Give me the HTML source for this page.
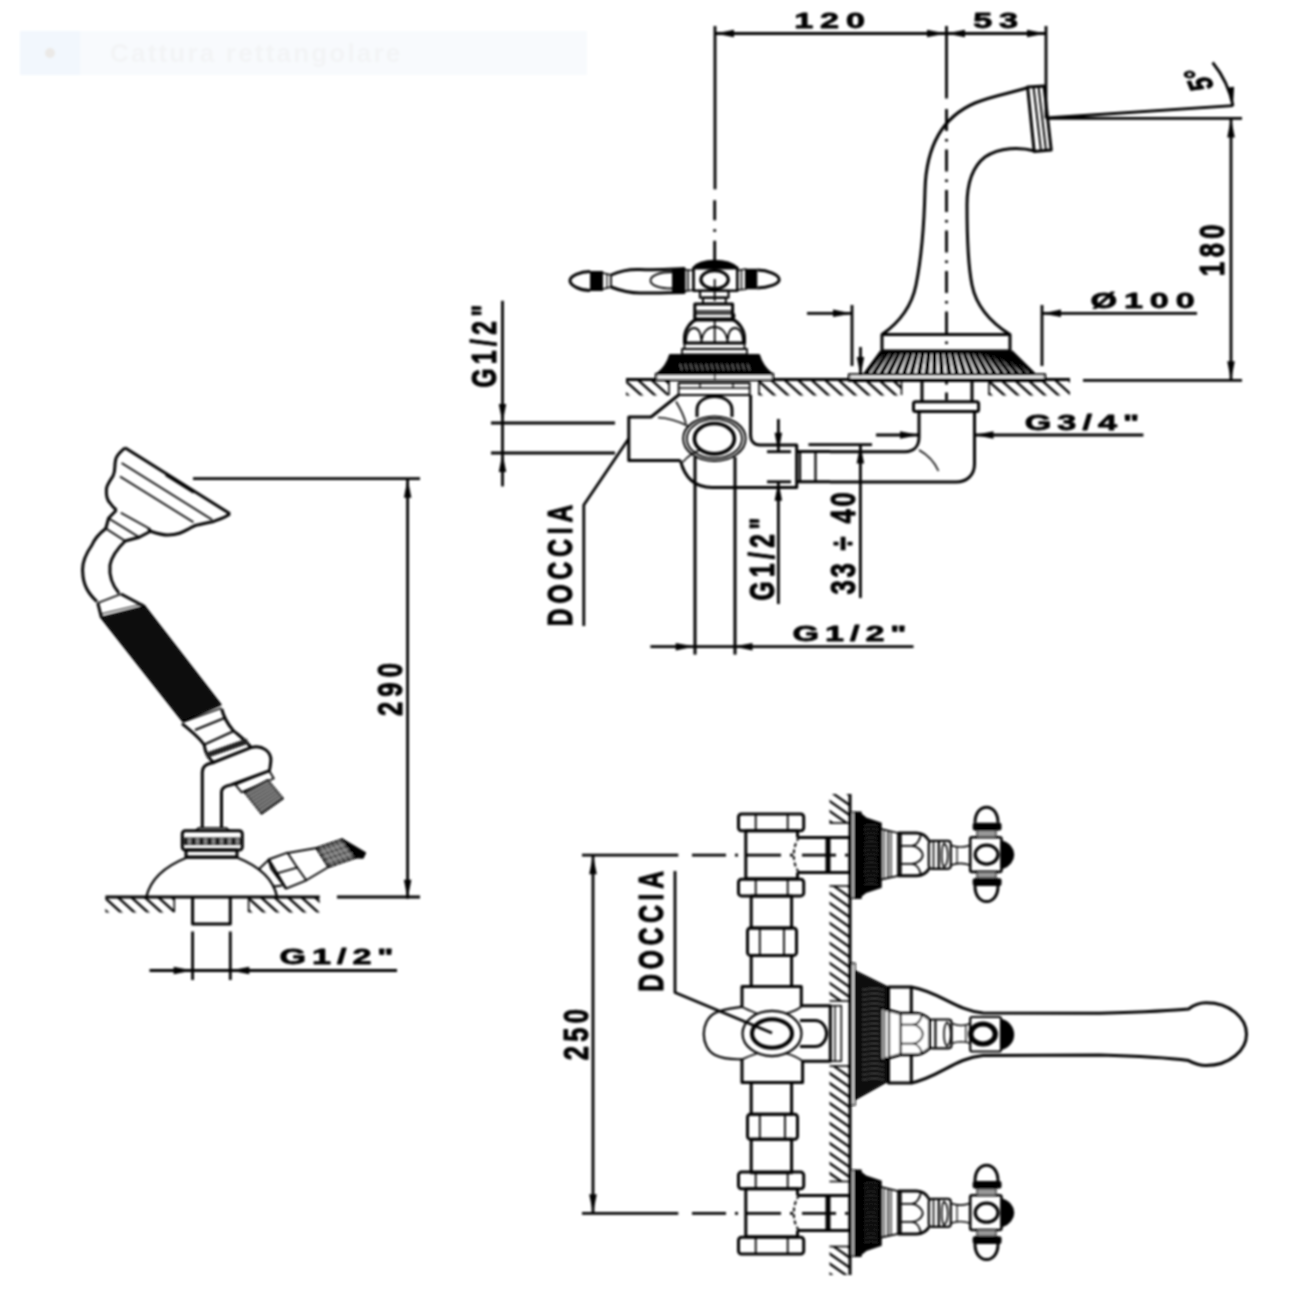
<!DOCTYPE html>
<html><head><meta charset="utf-8"><style>
html,body{margin:0;padding:0;background:#fff;width:1300px;height:1300px;overflow:hidden}
svg{display:block}
text{font-family:"Liberation Sans",sans-serif}
</style></head><body>
<svg width="1300" height="1300" viewBox="0 0 1300 1300" stroke="#000" fill="none" stroke-linecap="butt" stroke-linejoin="round">
<defs><filter id="blr" filterUnits="userSpaceOnUse" x="0" y="0" width="1300" height="1300"><feGaussianBlur stdDeviation="0.9"/></filter></defs>
<rect x="0" y="0" width="1300" height="1300" fill="#fff" stroke="none"/>
<g filter="url(#blr)">
<rect x="20" y="31" width="567" height="44" fill="#f8fafd" stroke="none"/>
<rect x="20" y="31" width="60" height="44" fill="#f2f7fd" stroke="none"/>
<circle cx="50" cy="53" r="5" fill="#ebe9e7" stroke="none"/>
<text x="110" y="62" font-size="26" font-weight="bold" letter-spacing="2.2" fill="#f3f4f6" stroke="none">Cattura rettangolare</text>
<line x1="715.0" y1="33.5" x2="1046.0" y2="33.5" stroke-width="2.8" />
<polygon points="715.0,33.5 734.0,29.8 734.0,37.2" fill="#000" stroke="none"/>
<polygon points="946.0,33.5 927.0,37.2 927.0,29.8" fill="#000" stroke="none"/>
<polygon points="946.0,33.5 965.0,29.8 965.0,37.2" fill="#000" stroke="none"/>
<polygon points="1046.0,33.5 1027.0,37.2 1027.0,29.8" fill="#000" stroke="none"/>
<line x1="715.0" y1="26.0" x2="715.0" y2="189.3" stroke-width="2.8" />
<line x1="946.5" y1="26.0" x2="946.5" y2="98.5" stroke-width="2.8" />
<line x1="1046.0" y1="26.0" x2="1046.0" y2="118.4" stroke-width="2.8" />
<text transform="translate(833.0,28.0) scale(1.52,1) rotate(0)" font-size="22.5" letter-spacing="4.5" text-anchor="middle" font-weight="bold" fill="#000" stroke="#000" stroke-width="0.8">120</text>
<text transform="translate(999.0,28.0) scale(1.52,1) rotate(0)" font-size="22.5" letter-spacing="4.5" text-anchor="middle" font-weight="bold" fill="#000" stroke="#000" stroke-width="0.8">53</text>
<path d="M714.7,200.3V220.3M714.7,229.3V231.8M714.7,240.8V260.8" stroke-width="2.8" fill="none" />
<path d="M946.5,109.0V131.0M946.5,139.0V141.5M946.5,149.5V171.5M946.5,179.5V182.0M946.5,190.0V212.0M946.5,220.0V222.5M946.5,230.5V252.5M946.5,260.5V263.0M946.5,271.0V293.0M946.5,301.0V303.5M946.5,311.5V333.5M946.5,341.5V344.0M946.5,352.0V374.0M946.5,382.0V384.5M946.5,392.5V400.0" stroke-width="2.8" fill="none" />
<path d="M882,334.6 C900,322 912,305 916,285 C921,260 924,230 925,190 C926,150 940,118 975,103 C995,95 1012,93 1028,87.5" stroke-width="3.0" fill="none" />
<path d="M1035,151 C1020,147 1000,147 985,157 C972,167 967,185 967,205 C967,240 968,265 972,285 C976,305 990,322 1010,334.6" stroke-width="3.0" fill="none" />
<path d="M1027.6,87 L1044,86 L1051.2,150 L1034.2,151.5 Z" stroke-width="3.0" fill="none" />
<line x1="1033.5" y1="87.0" x2="1041.0" y2="151.0" stroke-width="2.0" />
<line x1="1038.5" y1="86.5" x2="1046.0" y2="150.5" stroke-width="2.0" />
<rect x="882.0" y="334.6" width="128.0" height="16.4" rx="0" stroke-width="3.0" fill="none"/>
<polygon points="882,352 1010.6,352 1033.5,374.4 865.5,374.4" fill="#fff" stroke="#000" stroke-width="2"/>
<path d="M882.0,352L865.5,374.4M887.8,352L873.1,374.4M893.7,352L880.8,374.4M899.5,352L888.4,374.4M905.4,352L896.0,374.4M911.2,352L903.7,374.4M917.1,352L911.3,374.4M922.9,352L919.0,374.4M928.8,352L926.6,374.4M934.6,352L934.2,374.4M940.5,352L941.9,374.4M946.3,352L949.5,374.4M952.1,352L957.1,374.4M958.0,352L964.8,374.4M963.8,352L972.4,374.4M969.7,352L980.0,374.4M975.5,352L987.7,374.4M981.4,352L995.3,374.4M987.2,352L1003.0,374.4M993.1,352L1010.6,374.4M998.9,352L1018.2,374.4M1004.8,352L1025.9,374.4M1010.6,352L1033.5,374.4" stroke-width="4.8" fill="none" />
<line x1="882.0" y1="352.5" x2="1010.6" y2="352.5" stroke-width="2.5" />
<rect x="849.0" y="374.4" width="196.0" height="6.3" rx="0" stroke-width="2.4" fill="#fff"/>
<line x1="626.0" y1="379.5" x2="1070.0" y2="379.5" stroke-width="3.0" />
<line x1="1083.0" y1="380.3" x2="1242.0" y2="380.3" stroke-width="2.8" />
<clipPath id="c28"><rect x="626" y="381" width="43" height="14.5"/></clipPath>
<path d="M596.5,379.0L616.9,397.5M610.0,379.0L630.4,397.5M623.5,379.0L643.9,397.5M637.0,379.0L657.4,397.5M650.5,379.0L670.9,397.5M664.0,379.0L684.4,397.5M677.5,379.0L697.9,397.5" stroke-width="2.4" clip-path="url(#c28)"/>
<clipPath id="c30"><rect x="759" y="381" width="142.5" height="14.5"/></clipPath>
<path d="M729.5,379.0L749.9,397.5M743.0,379.0L763.4,397.5M756.5,379.0L776.9,397.5M770.0,379.0L790.4,397.5M783.5,379.0L803.9,397.5M797.0,379.0L817.4,397.5M810.5,379.0L830.9,397.5M824.0,379.0L844.4,397.5M837.5,379.0L857.9,397.5M851.0,379.0L871.4,397.5M864.5,379.0L884.9,397.5M878.0,379.0L898.4,397.5M891.5,379.0L911.9,397.5M905.0,379.0L925.4,397.5" stroke-width="2.4" clip-path="url(#c30)"/>
<clipPath id="c32"><rect x="989" y="381" width="81" height="14.5"/></clipPath>
<path d="M959.5,379.0L979.9,397.5M973.0,379.0L993.4,397.5M986.5,379.0L1006.9,397.5M1000.0,379.0L1020.4,397.5M1013.5,379.0L1033.9,397.5M1027.0,379.0L1047.4,397.5M1040.5,379.0L1060.9,397.5M1054.0,379.0L1074.4,397.5M1067.5,379.0L1087.9,397.5M1081.0,379.0L1101.4,397.5" stroke-width="2.4" clip-path="url(#c32)"/>
<line x1="669.0" y1="380.0" x2="669.0" y2="395.0" stroke-width="1.6" />
<line x1="759.0" y1="380.0" x2="759.0" y2="395.0" stroke-width="1.6" />
<line x1="901.5" y1="380.0" x2="901.5" y2="395.0" stroke-width="1.6" />
<line x1="989.0" y1="380.0" x2="989.0" y2="395.0" stroke-width="1.6" />
<path d="M590,271.5 C580,271.5 570,276 570,280.5 C570,285.5 580,290.5 590,290.5" stroke-width="3.0" fill="none" />
<rect x="590.0" y="271.0" width="13.0" height="20.0" rx="0" stroke-width="0" fill="#000"/>
<path d="M603,273 L611,275 L611,287 L603,289" stroke-width="1.8" fill="none" />
<line x1="607.0" y1="274.0" x2="607.0" y2="288.0" stroke-width="1.2" />
<path d="M611,275 C620,271 630,269 640,269.5 C660,270.5 672,269 684,268.5 L684,292.5 C672,292.5 660,293 640,293 C630,293 620,290.5 611,287" stroke-width="3.0" fill="none" />
<path d="M672,272 C660,272 650.5,275.5 650.5,280.5 C650.5,285.5 660,288.5 672,288.5" stroke-width="1.8" fill="none" />
<rect x="672.0" y="268.5" width="11.0" height="24.0" rx="0" stroke-width="0" fill="#000"/>
<path d="M683,269.5 L693.5,270.5 L693.5,290 L683,291.5" stroke-width="1.6" fill="none" />
<line x1="688.0" y1="270.0" x2="688.0" y2="291.0" stroke-width="1.6" />
<path d="M737.3,270.5 L745.8,269 L745.8,289.2 L737.3,290" stroke-width="1.6" fill="none" />
<line x1="741.5" y1="270.0" x2="741.5" y2="289.5" stroke-width="1.4" />
<rect x="745.8" y="268.8" width="11.5" height="20.4" rx="0" stroke-width="0" fill="#000"/>
<path d="M757.3,270 C768,270 779.2,275 779.2,279.5 C779.2,284 768,288 757.3,288" stroke-width="3.0" fill="none" />
<path d="M693.5,268 C698,262 706,261 714.6,261 C723,261 731,262 737.3,268 Z" fill="#000" stroke="#000" stroke-width="2.5"/>
<rect x="693.5" y="268.0" width="43.8" height="22.8" rx="0" stroke-width="2.6" fill="none"/>
<ellipse cx="714.6" cy="279.6" rx="13.7" ry="9.0" stroke-width="3.2" fill="none"/>
<line x1="714.7" y1="279.0" x2="714.7" y2="301.0" stroke-width="1.8" />
<rect x="700.0" y="290.8" width="28.5" height="6.9" rx="0" stroke-width="2.2" fill="none"/>
<rect x="703.0" y="297.7" width="22.8" height="6.1" rx="0" stroke-width="2.0" fill="none"/>
<rect x="694.8" y="304.0" width="37.8" height="16.0" rx="0" stroke-width="3.0" fill="none"/>
<line x1="694.8" y1="311.0" x2="732.6" y2="311.0" stroke-width="1.4" />
<rect x="694.5" y="313.5" width="40.0" height="5.0" rx="2.5" stroke-width="1.8" fill="none"/>
<path d="M697,319 C690,322 684.5,330 684.5,338 L684.5,343 L744.5,343 L744.5,338 C744.5,330 739,322 732,319" stroke-width="3.0" fill="none" />
<path d="M686,342 C686,333 690,328 694,328 C698,328 701,332 701.5,342 M701.5,342 C702,332 708,327 714.5,327 C721,327 727,332 727.5,342 M727.5,342 C728,332 731,328 735,328 C739,328 743,333 743,342" stroke-width="1.8" fill="none" />
<line x1="714.7" y1="319.0" x2="714.7" y2="343.0" stroke-width="1.8" />
<rect x="684.5" y="343.0" width="60.0" height="6.0" rx="0" stroke-width="1.8" fill="none"/>
<rect x="682.0" y="349.0" width="65.0" height="5.5" rx="0" stroke-width="1.8" fill="none"/>
<path d="M670,355 L759,355 C761,362 764,368 772,374 L657,374 C665,368 668,362 670,355 Z" fill="#000" stroke="#000" stroke-width="2"/>
<path d="M680.0,364 L682.0,370M685.2,364 L687.2,370M690.4,364 L692.4,370M695.6,364 L697.6,370M700.8,364 L702.8,370M706.0,364 L708.0,370M711.2,364 L713.2,370M716.4,364 L718.4,370M721.6,364 L723.6,370M726.8,364 L728.8,370M732.0,364 L734.0,370M737.2,364 L739.2,370M742.4,364 L744.4,370M747.6,364 L749.6,370" stroke-width="1.0" fill="none" stroke="#fff" opacity="0.5"/>
<rect x="656.0" y="374.0" width="117.0" height="6.0" rx="0" stroke-width="2.4" fill="#fff"/>
<line x1="714.7" y1="374.0" x2="714.7" y2="380.0" stroke-width="1.6" />
<rect x="678.6" y="383.0" width="71.1" height="12.0" rx="0" stroke-width="1.8" fill="none"/>
<line x1="678.6" y1="388.0" x2="749.7" y2="388.0" stroke-width="1.4" />
<line x1="700.0" y1="383.0" x2="700.0" y2="388.0" stroke-width="1.4" />
<line x1="733.0" y1="383.0" x2="733.0" y2="388.0" stroke-width="1.4" />
<path d="M678.6,395 L651,417 L628.8,417 L628.8,460.6 L680.5,460.6" stroke-width="3.0" fill="none" />
<path d="M680.5,460.6 C684,475 692,487.4 712,487.4 L796.7,487.4 L796.7,445 L760,445 C754,445 750.6,441 750.6,435 L750.6,395" stroke-width="3.0" fill="none" />
<path d="M658,417.5 C668,418 680,422 688,426" stroke-width="1.6" fill="none" />
<path d="M676,401.5 C680,408 684,416 686,423.7" stroke-width="1.6" fill="none" />
<path d="M683,462 C688,456 694,452 700,450" stroke-width="1.6" fill="none" />
<ellipse cx="714.4" cy="438.7" rx="31.2" ry="22.3" stroke-width="2.0" fill="none"/>
<ellipse cx="714.4" cy="438.7" rx="27.6" ry="19.5" stroke-width="1.8" fill="none"/>
<ellipse cx="714.4" cy="438.7" rx="20.0" ry="15.2" stroke-width="3.6" fill="none"/>
<path d="M697,417 L697,410 C697,392 732,392 732,410 L732,417" stroke-width="3.0" fill="none" />
<line x1="695.0" y1="457.0" x2="695.0" y2="654.6" stroke-width="3.0" />
<line x1="735.0" y1="457.0" x2="735.0" y2="654.6" stroke-width="3.0" />
<path d="M796.7,451.4 L830,451.4 M796.7,481.8 L830,481.8" stroke-width="3.0" fill="none" />
<line x1="800.0" y1="451.4" x2="800.0" y2="481.8" stroke-width="2.2" />
<line x1="815.5" y1="451.4" x2="815.5" y2="481.8" stroke-width="2.2" />
<path d="M830,451.7 L905,451.7 C914,451.7 919,446 919,437 L919,411.5" stroke-width="3.0" fill="none" />
<path d="M830,482 L956,482 C967,482 974.5,475 974.5,464 L974.5,411.5" stroke-width="3.0" fill="none" />
<path d="M919,450 C928,455 935,463 938.5,471" stroke-width="1.6" fill="none" />
<rect x="913.5" y="401.8" width="65.1" height="9.7" rx="2" stroke-width="3.0" fill="none"/>
<line x1="922.0" y1="381.0" x2="922.0" y2="401.8" stroke-width="3.0" />
<line x1="972.0" y1="381.0" x2="972.0" y2="401.8" stroke-width="3.0" />
<line x1="502.5" y1="300.8" x2="502.5" y2="486.4" stroke-width="2.8" />
<polygon points="502.5,423.0 498.8,404.0 506.2,404.0" fill="#000" stroke="none"/>
<polygon points="502.5,453.0 506.2,472.0 498.8,472.0" fill="#000" stroke="none"/>
<line x1="491.0" y1="423.0" x2="615.0" y2="423.0" stroke-width="2.8" />
<line x1="491.0" y1="453.0" x2="615.0" y2="453.0" stroke-width="2.8" />
<text transform="translate(496.3,344.0) scale(1.42,1) rotate(-90)" font-size="24.5" letter-spacing="4.5" text-anchor="middle" font-weight="bold" fill="#000" stroke="#000" stroke-width="0.8">G1/2"</text>
<path d="M628.8,438.5 L583.8,505 L583.8,626" stroke-width="2.8" fill="none" />
<text transform="translate(572.0,563.0) scale(1.42,1) rotate(-90)" font-size="24.5" letter-spacing="5" text-anchor="middle" font-weight="bold" fill="#000" stroke="#000" stroke-width="0.8">DOCCIA</text>
<line x1="778.4" y1="419.0" x2="778.4" y2="451.7" stroke-width="2.8" />
<polygon points="778.4,451.7 774.6,432.7 782.1,432.7" fill="#000" stroke="none"/>
<line x1="778.4" y1="481.8" x2="778.4" y2="604.0" stroke-width="2.8" />
<polygon points="778.4,481.8 782.1,500.8 774.6,500.8" fill="#000" stroke="none"/>
<line x1="767.0" y1="451.7" x2="791.0" y2="451.7" stroke-width="2.8" />
<line x1="767.0" y1="481.8" x2="791.0" y2="481.8" stroke-width="2.8" />
<text transform="translate(773.5,557.0) scale(1.42,1) rotate(-90)" font-size="24.5" letter-spacing="4.5" text-anchor="middle" font-weight="bold" fill="#000" stroke="#000" stroke-width="0.8">G1/2"</text>
<line x1="808.5" y1="444.6" x2="872.0" y2="444.6" stroke-width="2.8" />
<line x1="860.4" y1="444.6" x2="860.4" y2="598.0" stroke-width="2.8" />
<polygon points="860.4,444.6 864.1,463.6 856.6,463.6" fill="#000" stroke="none"/>
<text transform="translate(855.0,542.0) scale(1.36,1) rotate(-90)" font-size="25.5" letter-spacing="2.9" text-anchor="middle" font-weight="bold" fill="#000" stroke="#000" stroke-width="0.8">33 ÷ 40</text>
<line x1="650.4" y1="646.6" x2="913.5" y2="646.6" stroke-width="2.8" />
<polygon points="694.7,646.6 675.7,650.4 675.7,642.9" fill="#000" stroke="none"/>
<polygon points="733.5,646.6 752.5,642.9 752.5,650.4" fill="#000" stroke="none"/>
<text transform="translate(852.5,640.8) scale(1.52,1) rotate(0)" font-size="22.5" letter-spacing="3.9" text-anchor="middle" font-weight="bold" fill="#000" stroke="#000" stroke-width="0.8">G1/2"</text>
<line x1="876.0" y1="435.0" x2="919.0" y2="435.0" stroke-width="2.8" />
<polygon points="919.0,435.0 900.0,438.8 900.0,431.2" fill="#000" stroke="none"/>
<line x1="974.5" y1="435.0" x2="1143.4" y2="435.0" stroke-width="2.8" />
<polygon points="974.5,435.0 993.5,431.2 993.5,438.8" fill="#000" stroke="none"/>
<text transform="translate(1085.0,429.5) scale(1.52,1) rotate(0)" font-size="22.5" letter-spacing="4.0" text-anchor="middle" font-weight="bold" fill="#000" stroke="#000" stroke-width="0.8">G3/4"</text>
<line x1="852.0" y1="305.0" x2="852.0" y2="366.0" stroke-width="2.8" />
<line x1="807.0" y1="313.4" x2="852.0" y2="313.4" stroke-width="2.8" />
<polygon points="852.0,313.4 833.0,317.1 833.0,309.6" fill="#000" stroke="none"/>
<line x1="1042.0" y1="305.0" x2="1042.0" y2="366.0" stroke-width="2.8" />
<line x1="1042.0" y1="313.4" x2="1197.0" y2="313.4" stroke-width="2.8" />
<polygon points="1042.0,313.4 1061.0,309.6 1061.0,317.1" fill="#000" stroke="none"/>
<text transform="translate(1146.0,307.5) scale(1.52,1) rotate(0)" font-size="22.5" letter-spacing="4.5" text-anchor="middle" font-weight="bold" fill="#000" stroke="#000" stroke-width="0.8">Ø100</text>
<line x1="860.5" y1="347.0" x2="860.5" y2="376.0" stroke-width="2.8" />
<polygon points="860.5,376.0 856.8,357.0 864.2,357.0" fill="#000" stroke="none"/>
<line x1="1046.0" y1="118.4" x2="1242.0" y2="118.4" stroke-width="2.8" />
<line x1="1231.0" y1="118.4" x2="1231.0" y2="380.0" stroke-width="2.8" />
<polygon points="1231.0,118.4 1234.8,137.4 1227.2,137.4" fill="#000" stroke="none"/>
<polygon points="1231.0,380.3 1227.2,361.3 1234.8,361.3" fill="#000" stroke="none"/>
<line x1="1046.0" y1="118.0" x2="1233.0" y2="105.7" stroke-width="2.8" />
<path d="M1212.6,62.5 C1222,74 1230,90 1233,106" stroke-width="2.8" fill="none" />
<polygon points="1233.0,106.0 1226.6,87.7 1234.1,86.7" fill="#000" stroke="none"/>
<text transform="translate(1223.5,248.0) scale(1.36,1) rotate(-90)" font-size="25.5" letter-spacing="4.5" text-anchor="middle" font-weight="bold" fill="#000" stroke="#000" stroke-width="0.8">180</text>
<text transform="translate(1210.0,77.5) scale(1.52,1) rotate(-105)" font-size="22.5" letter-spacing="0" text-anchor="middle" font-weight="bold" fill="#000" stroke="#000" stroke-width="0.8">5°</text>
<line x1="407.6" y1="478.7" x2="407.6" y2="898.7" stroke-width="2.8" />
<polygon points="407.6,478.7 411.4,497.7 403.9,497.7" fill="#000" stroke="none"/>
<polygon points="407.6,898.7 403.9,879.7 411.4,879.7" fill="#000" stroke="none"/>
<line x1="193.0" y1="478.7" x2="420.0" y2="478.7" stroke-width="2.8" />
<text transform="translate(402.0,687.0) scale(1.36,1) rotate(-90)" font-size="25.5" letter-spacing="5.1" text-anchor="middle" font-weight="bold" fill="#000" stroke="#000" stroke-width="0.8">290</text>
<line x1="105.4" y1="897.0" x2="319.7" y2="897.0" stroke-width="3.0" />
<line x1="337.0" y1="897.0" x2="420.0" y2="897.0" stroke-width="2.8" />
<clipPath id="c146"><rect x="105.4" y="898" width="68.9" height="14.5"/></clipPath>
<path d="M76.0,896.0L96.3,914.5M89.5,896.0L109.8,914.5M103.0,896.0L123.3,914.5M116.5,896.0L136.8,914.5M129.9,896.0L150.3,914.5M143.4,896.0L163.8,914.5M156.9,896.0L177.3,914.5M170.4,896.0L190.8,914.5M183.9,896.0L204.3,914.5" stroke-width="2.4" clip-path="url(#c146)"/>
<clipPath id="c148"><rect x="248.6" y="898" width="71.1" height="14.5"/></clipPath>
<path d="M219.2,896.0L239.5,914.5M232.7,896.0L253.0,914.5M246.2,896.0L266.5,914.5M259.6,896.0L280.0,914.5M273.1,896.0L293.5,914.5M286.6,896.0L307.0,914.5M300.1,896.0L320.5,914.5M313.6,896.0L334.0,914.5M327.1,896.0L347.5,914.5" stroke-width="2.4" clip-path="url(#c148)"/>
<line x1="174.3" y1="897.0" x2="174.3" y2="912.0" stroke-width="1.6" />
<line x1="248.6" y1="897.0" x2="248.6" y2="912.0" stroke-width="1.6" />
<path d="M192.6,897 L192.6,924 L230.3,924 L230.3,897" stroke-width="3.0" fill="none" />
<line x1="192.6" y1="931.5" x2="192.6" y2="980.0" stroke-width="2.8" />
<line x1="230.3" y1="931.5" x2="230.3" y2="980.0" stroke-width="2.8" />
<line x1="149.5" y1="970.5" x2="397.0" y2="970.5" stroke-width="2.8" />
<polygon points="192.6,970.5 173.6,974.2 173.6,966.8" fill="#000" stroke="none"/>
<polygon points="230.3,970.5 249.3,966.8 249.3,974.2" fill="#000" stroke="none"/>
<text transform="translate(339.5,964.0) scale(1.52,1) rotate(0)" font-size="22.5" letter-spacing="3.9" text-anchor="middle" font-weight="bold" fill="#000" stroke="#000" stroke-width="0.8">G1/2"</text>
<path d="M146.3,897 C150,881 163,867 187,857.5 L237,857.5 C261,867 274,881 277,897" stroke-width="2.4" fill="none" />
<rect x="186.0" y="850.0" width="51.0" height="7.0" rx="0" stroke-width="3.0" fill="none"/>
<rect x="182.3" y="830.8" width="60.0" height="19.2" rx="3" stroke-width="3.0" fill="none"/>
<rect x="183.0" y="837.5" width="58.5" height="7.5" rx="0" stroke-width="0" fill="#222"/>
<rect x="188.0" y="838.5" width="3.0" height="5.5" rx="0" stroke-width="0" fill="#888"/>
<rect x="196.0" y="838.5" width="3.0" height="5.5" rx="0" stroke-width="0" fill="#888"/>
<rect x="204.0" y="838.5" width="3.0" height="5.5" rx="0" stroke-width="0" fill="#888"/>
<rect x="212.0" y="838.5" width="3.0" height="5.5" rx="0" stroke-width="0" fill="#888"/>
<rect x="220.0" y="838.5" width="3.0" height="5.5" rx="0" stroke-width="0" fill="#888"/>
<rect x="228.0" y="838.5" width="3.0" height="5.5" rx="0" stroke-width="0" fill="#888"/>
<rect x="236.0" y="838.5" width="3.0" height="5.5" rx="0" stroke-width="0" fill="#888"/>
<path d="M195,830.8 L199,827.7 L226,827.7 L230,830.8" stroke-width="1.6" fill="none" />
<path d="M202.3,827.7 L202.3,772 C202.3,767 206,764 212,763" stroke-width="3.0" fill="none" />
<path d="M221.5,827.7 L221.5,792 C221.5,788 225,786 230.8,785" stroke-width="3.0" fill="none" />
<path d="M212,763 L250.8,747.7 C262,744 272,752 270.8,761.5 C270,767 270,770 269,770.8 L230.8,785" stroke-width="3.0" fill="none" />
<path d="M235.4,784.6 L269.2,770.8 L273.8,778.5 L241.5,792.3 Z" stroke-width="1.8" fill="none" />
<polygon points="244.6,792.3 267.7,780 283,798.5 261.5,813.8" fill="#555" stroke="#000" stroke-width="1.8"/>
<path d="M246.7,795.0L269.6,782.3M248.8,797.7L271.5,784.6M250.9,800.4L273.4,786.9M253.0,803.0L275.3,789.2M255.2,805.7L277.3,791.6M257.3,808.4L279.2,793.9M259.4,811.1L281.1,796.2" stroke-width="0.7" fill="none" stroke="#ccc"/>
<path d="M182,723.6 C190,730 200,738 204.2,745 C205,750 206,756 214.3,763.3" stroke-width="3.0" fill="none" />
<path d="M221.7,709 C223,714 226,722 232.8,730 C238,735 244,738 251.3,747.6" stroke-width="3.0" fill="none" />
<line x1="195.0" y1="730.0" x2="224.5" y2="718.0" stroke-width="2.0" />
<line x1="204.5" y1="744.5" x2="232.8" y2="731.5" stroke-width="2.0" />
<polygon points="205,753 246.5,738.5 249,743.5 207,758" fill="#222" stroke="none"/>
<line x1="183.0" y1="722.0" x2="221.5" y2="708.0" stroke-width="1.4" />
<polygon points="101.5,617.8 145,606.8 220.6,704.6 182.8,721.2" fill="#111" stroke="#000" stroke-width="2"/>
<path d="M97.8,603 L101.5,617.8" stroke-width="3.0" fill="none" />
<path d="M121,594 L145,606.8" stroke-width="3.0" fill="none" />
<line x1="97.8" y1="603.0" x2="121.0" y2="594.0" stroke-width="1.8" />
<line x1="101.0" y1="614.0" x2="143.0" y2="604.0" stroke-width="1.2" />
<path d="M105.8,528.5 C100,533 95,538 92,545 C85,555 82,565 82.7,572 C83,585 88,593 97,601.8" stroke-width="3.0" fill="none" />
<path d="M125.2,541 C118,548 112,555 110,565 C109,575 112,585 119,593.3" stroke-width="3.0" fill="none" />
<path d="M125,447.8 L230,513.8" stroke-width="3.0" fill="none" />
<line x1="166.0" y1="474.5" x2="194.0" y2="492.0" stroke-width="3.5" />
<path d="M125,447.8 C120,452 116,456 115.7,459.6 C114,466 116,470 113,476 C109,482 106,486 106.4,490 C106,497 108,501 110,503 C112,506 114,508 116.5,510" stroke-width="3.0" fill="none" />
<path d="M148.3,528 L150.5,531.2 C156,533 163,535 168,535 C178,535 183,532 188.5,529 C192,527 195,525 198.6,524.8 C205,523 210,522 213.8,521.4 C220,519 226,517 230,513.8" stroke-width="3.0" fill="none" />
<line x1="121.6" y1="463.0" x2="212.2" y2="519.7" stroke-width="1.8" />
<line x1="120.0" y1="476.5" x2="193.5" y2="522.2" stroke-width="1.8" />
<path d="M116.5,510 L108.5,518.3 L105.8,528.5" stroke-width="3.0" fill="none" />
<path d="M150.5,531.2 L139.2,537.2 L125.2,541" stroke-width="3.0" fill="none" />
<line x1="120.8" y1="512.7" x2="148.3" y2="528.0" stroke-width="1.8" />
<line x1="108.5" y1="518.3" x2="139.2" y2="537.2" stroke-width="1.8" />
<line x1="105.8" y1="528.5" x2="125.2" y2="541.0" stroke-width="1.8" />
<path d="M259,869 L268.5,860 M274,886.5 L282,885.5" stroke-width="1.8" fill="none" />
<path d="M268.5,859.5 L287.5,852.7 L296.2,866 L306.3,880.3 L286,888.6 L271.2,868.8 Z" stroke-width="1.9" fill="none" />
<line x1="268.5" y1="859.5" x2="286.0" y2="888.6" stroke-width="2.6" />
<line x1="276.8" y1="873.4" x2="298.0" y2="867.4" stroke-width="1.8" />
<path d="M287.5,853 L316.5,848 L328.5,867 L306.3,880.3" stroke-width="1.9" fill="none" />
<polygon points="316.5,848 342.3,839.2 356.2,857.7 328.5,867" fill="#555" stroke="#000" stroke-width="1.9"/>
<path d="M320.8,846.5L333.1,865.5M325.1,845.1L337.7,863.9M329.4,843.6L342.4,862.4M333.7,842.1L347.0,860.8M338.0,840.7L351.6,859.2M319.5,852.8L345.8,843.8M322.5,857.5L349.2,848.5M325.5,862.2L352.7,853.1" stroke-width="0.7" fill="none" stroke="#ccc"/>
<polygon points="342.3,839.2 352,845 365.4,853 363,858 356.2,857.7" fill="#000" stroke="#000" stroke-width="1.5"/>
<line x1="850.0" y1="794.0" x2="850.0" y2="1275.0" stroke-width="3.0" />
<clipPath id="c210"><rect x="829.5" y="794" width="20.5" height="29"/></clipPath>
<path d="M827.5,769.6L852.0,786.8M827.5,779.6L852.0,796.8M827.5,789.6L852.0,806.8M827.5,799.6L852.0,816.8M827.5,809.6L852.0,826.8M827.5,819.6L852.0,836.8M827.5,829.6L852.0,846.8" stroke-width="2.3" clip-path="url(#c210)"/>
<clipPath id="c212"><rect x="829.5" y="886" width="20.5" height="115"/></clipPath>
<path d="M827.5,861.6L852.0,878.8M827.5,871.6L852.0,888.8M827.5,881.6L852.0,898.8M827.5,891.6L852.0,908.8M827.5,901.6L852.0,918.8M827.5,911.6L852.0,928.8M827.5,921.6L852.0,938.8M827.5,931.6L852.0,948.8M827.5,941.6L852.0,958.8M827.5,951.6L852.0,968.8M827.5,961.6L852.0,978.8M827.5,971.6L852.0,988.8M827.5,981.6L852.0,998.8M827.5,991.6L852.0,1008.8M827.5,1001.6L852.0,1018.8" stroke-width="2.3" clip-path="url(#c212)"/>
<clipPath id="c214"><rect x="829.5" y="1066" width="20.5" height="115.5"/></clipPath>
<path d="M827.5,1041.7L852.0,1058.8M827.5,1051.7L852.0,1068.8M827.5,1061.7L852.0,1078.8M827.5,1071.7L852.0,1088.8M827.5,1081.7L852.0,1098.8M827.5,1091.7L852.0,1108.8M827.5,1101.7L852.0,1118.8M827.5,1111.7L852.0,1128.8M827.5,1121.7L852.0,1138.8M827.5,1131.7L852.0,1148.8M827.5,1141.7L852.0,1158.8M827.5,1151.7L852.0,1168.8M827.5,1161.7L852.0,1178.8M827.5,1171.7L852.0,1188.8M827.5,1181.7L852.0,1198.8" stroke-width="2.3" clip-path="url(#c214)"/>
<clipPath id="c216"><rect x="829.5" y="1246.5" width="20.5" height="28.5"/></clipPath>
<path d="M827.5,1222.2L852.0,1239.3M827.5,1232.2L852.0,1249.3M827.5,1242.2L852.0,1259.3M827.5,1252.2L852.0,1269.3M827.5,1262.2L852.0,1279.3M827.5,1272.2L852.0,1289.3M827.5,1282.2L852.0,1299.3" stroke-width="2.3" clip-path="url(#c216)"/>
<line x1="829.5" y1="823.0" x2="850.0" y2="823.0" stroke-width="1.6" />
<line x1="829.5" y1="886.0" x2="850.0" y2="886.0" stroke-width="1.6" />
<line x1="829.5" y1="1001.0" x2="850.0" y2="1001.0" stroke-width="1.6" />
<line x1="829.5" y1="1066.0" x2="850.0" y2="1066.0" stroke-width="1.6" />
<line x1="829.5" y1="1181.5" x2="850.0" y2="1181.5" stroke-width="1.6" />
<line x1="829.5" y1="1246.5" x2="850.0" y2="1246.5" stroke-width="1.6" />
<line x1="593.0" y1="855.2" x2="593.0" y2="1213.3" stroke-width="2.8" />
<polygon points="593.0,855.2 596.8,874.2 589.2,874.2" fill="#000" stroke="none"/>
<polygon points="593.0,1213.3 589.2,1194.3 596.8,1194.3" fill="#000" stroke="none"/>
<line x1="582.0" y1="855.2" x2="678.3" y2="855.2" stroke-width="2.8" />
<path d="M692.0,855.2H726.0M735.0,855.2H738.0M747.0,855.2H781.0M790.0,855.2H793.0M802.0,855.2H836.0M845.0,855.2H848.0M857.0,855.2H860.0" stroke-width="2.8" fill="none" />
<line x1="582.0" y1="1213.3" x2="678.3" y2="1213.3" stroke-width="2.8" />
<path d="M692.0,1213.3H726.0M735.0,1213.3H738.0M747.0,1213.3H781.0M790.0,1213.3H793.0M802.0,1213.3H836.0M845.0,1213.3H848.0M857.0,1213.3H860.0" stroke-width="2.8" fill="none" />
<text transform="translate(588.0,1032.5) scale(1.36,1) rotate(-90)" font-size="25.5" letter-spacing="4.4" text-anchor="middle" font-weight="bold" fill="#000" stroke="#000" stroke-width="0.8">250</text>
<path d="M675,871 L675,992.5 L772,1033" stroke-width="2.8" fill="none" />
<text transform="translate(663.0,929.0) scale(1.42,1) rotate(-90)" font-size="24.5" letter-spacing="4.8" text-anchor="middle" font-weight="bold" fill="#000" stroke="#000" stroke-width="0.8">DOCCIA</text>
<rect x="738.5" y="814.0" width="65.2" height="16.7" rx="3" stroke-width="3.0" fill="none"/>
<line x1="755.7" y1="814.0" x2="755.7" y2="830.7" stroke-width="1.8" />
<line x1="787.7" y1="814.0" x2="787.7" y2="830.7" stroke-width="1.8" />
<path d="M797.5,837.4000000000001 L797.5,830.7 L745.8,830.7 L745.8,878.7 L797.5,878.7 L797.5,872.5" stroke-width="3.0" fill="none" />
<rect x="738.5" y="879.2" width="65.2" height="16.7" rx="3" stroke-width="3.0" fill="none"/>
<line x1="755.7" y1="879.2" x2="755.7" y2="895.9" stroke-width="1.8" />
<line x1="787.7" y1="879.2" x2="787.7" y2="895.9" stroke-width="1.8" />
<path d="M797.5,837.4000000000001 L827,837.4000000000001 M797.5,872.5 L827,872.5" stroke-width="3.0" fill="none" />
<path d="M799,837.4000000000001 C792,847.2 792,863.2 799,872.5" stroke-width="2.0" fill="none" stroke-dasharray="4,2.5"/>
<rect x="827.0" y="837.4" width="23.0" height="35.1" rx="0" stroke-width="3.0" fill="none"/>
<line x1="829.0" y1="837.4" x2="829.0" y2="872.5" stroke-width="3" />
<rect x="738.5" y="1172.1" width="65.2" height="16.7" rx="3" stroke-width="3.0" fill="none"/>
<line x1="755.7" y1="1172.1" x2="755.7" y2="1188.8" stroke-width="1.8" />
<line x1="787.7" y1="1172.1" x2="787.7" y2="1188.8" stroke-width="1.8" />
<path d="M797.5,1195.5 L797.5,1188.8 L745.8,1188.8 L745.8,1236.8 L797.5,1236.8 L797.5,1230.6" stroke-width="3.0" fill="none" />
<rect x="738.5" y="1237.3" width="65.2" height="16.7" rx="3" stroke-width="3.0" fill="none"/>
<line x1="755.7" y1="1237.3" x2="755.7" y2="1254.0" stroke-width="1.8" />
<line x1="787.7" y1="1237.3" x2="787.7" y2="1254.0" stroke-width="1.8" />
<path d="M797.5,1195.5 L827,1195.5 M797.5,1230.6 L827,1230.6" stroke-width="3.0" fill="none" />
<path d="M799,1195.5 C792,1205.3 792,1221.3 799,1230.6" stroke-width="2.0" fill="none" stroke-dasharray="4,2.5"/>
<rect x="827.0" y="1195.5" width="23.0" height="35.1" rx="0" stroke-width="3.0" fill="none"/>
<line x1="829.0" y1="1195.5" x2="829.0" y2="1230.6" stroke-width="3" />
<rect x="851.5" y="812.2" width="3.5" height="86.0" rx="0" stroke-width="1.6" fill="#fff"/>
<polygon points="854.5,812.2 861,812.2 861,814.2 866,818.2 881,823.2 881,887.2 866,892.2 861,896.2 861,898.2 854.5,898.2" fill="#000" stroke="#000" stroke-width="1.5"/>
<path d="M864,825.8C869,824.3 873,824.3 878,825.8M864,830.0C869,828.5 873,828.5 878,830.0M864,834.2C869,832.7 873,832.7 878,834.2M864,838.4C869,836.9 873,836.9 878,838.4M864,842.6C869,841.1 873,841.1 878,842.6M864,846.8C869,845.3 873,845.3 878,846.8M864,851.0C869,849.5 873,849.5 878,851.0M864,855.2C869,853.7 873,853.7 878,855.2M864,859.4C869,857.9 873,857.9 878,859.4M864,863.6C869,862.1 873,862.1 878,863.6M864,867.8C869,866.3 873,866.3 878,867.8M864,872.0C869,870.5 873,870.5 878,872.0M864,876.2C869,874.7 873,874.7 878,876.2M864,880.4C869,878.9 873,878.9 878,880.4M864,884.6C869,883.1 873,883.1 878,884.6" stroke-width="0.7" fill="none" stroke="#fff" opacity="0.3"/>
<path d="M881,828.8000000000001 L898,833.0 L898,875.8000000000001 L881,879.6" stroke-width="1.8" fill="none" />
<line x1="884.0" y1="829.7" x2="884.0" y2="878.8" stroke-width="1.2" />
<line x1="888.0" y1="830.6" x2="888.0" y2="878.0" stroke-width="1.4" />
<line x1="891.0" y1="831.4" x2="891.0" y2="877.2" stroke-width="1.2" />
<path d="M898,833.0 L916.5,833.0 C923,833.2 927,837.2 929,840.8000000000001 M898,875.8000000000001 L916.5,875.8000000000001 C923,875.6 927,872.2 929,868.8000000000001" stroke-width="3.0" fill="none" />
<line x1="900.4" y1="833.0" x2="900.4" y2="875.8" stroke-width="2.6" />
<path d="M901,845.8000000000001 L912,845.8000000000001 C917,845.8000000000001 922.7,851.2 922.7,855.2 C922.7,859.2 917,863.8000000000001 912,863.8000000000001 L901,863.8000000000001" stroke-width="1.8" fill="none" />
<path d="M912,845.8000000000001 C917,845.2 920,839.2 921,834.2" stroke-width="1.8" fill="none" />
<path d="M912,863.8000000000001 C917,864.2 920,870.2 921,875.2" stroke-width="1.8" fill="none" />
<rect x="928.8" y="840.8" width="22.0" height="28.0" rx="3" stroke-width="2.2" fill="none"/>
<line x1="933.5" y1="841.2" x2="933.5" y2="868.6" stroke-width="1.6" />
<line x1="938.8" y1="841.2" x2="938.8" y2="868.6" stroke-width="2.2" />
<path d="M944,843.2 C949,847.2 949,863.2 944,867.2 C941,863.2 941,847.2 944,843.2 Z" stroke-width="1.6" fill="none" />
<path d="M950.8,845.2 C956,847.2 962,848.2 970.2,845.2 M950.8,865.2 C956,863.2 962,862.2 970.2,865.2" stroke-width="1.6" fill="none" />
<line x1="957.0" y1="847.2" x2="957.0" y2="863.2" stroke-width="1.2" />
<rect x="970.2" y="837.2" width="31.3" height="34.7" rx="2" stroke-width="2.6" fill="none"/>
<ellipse cx="986.6" cy="854.6" rx="11.4" ry="9.5" stroke-width="3.2" fill="none"/>
<path d="M1001.5,841.5 C1009,843.2 1013.3,849.2 1013.3,854.6 C1013.3,860.2 1009,866.2 1001.5,868.5 Z" stroke-width="2" fill="#000" />
<path d="M975,822.8000000000001 C975,813.2 980,807.2 986.6,807.2 C993,807.2 998,813.2 998,822.8000000000001" stroke-width="3.0" fill="none" />
<rect x="972.7" y="822.8" width="28.8" height="7.7" rx="2" fill="#000" stroke="none"/>
<rect x="977" y="830.5" width="19" height="6.7" fill="#999" stroke="#000" stroke-width="1.2"/>
<path d="M975,885.9 C975,895.5 980,901.5 986.6,901.5 C993,901.5 998,895.5 998,885.9" stroke-width="3.0" fill="none" />
<rect x="972.7" y="878.2" width="28.8" height="7.7" rx="2" fill="#000" stroke="none"/>
<rect x="977" y="871.9" width="19" height="6.3" fill="#999" stroke="#000" stroke-width="1.2"/>
<rect x="851.5" y="1170.3" width="3.5" height="86.0" rx="0" stroke-width="1.6" fill="#fff"/>
<polygon points="854.5,1170.3 861,1170.3 861,1172.3 866,1176.3 881,1181.3 881,1245.3 866,1250.3 861,1254.3 861,1256.3 854.5,1256.3" fill="#000" stroke="#000" stroke-width="1.5"/>
<path d="M864,1183.9C869,1182.4 873,1182.4 878,1183.9M864,1188.1C869,1186.6 873,1186.6 878,1188.1M864,1192.3C869,1190.8 873,1190.8 878,1192.3M864,1196.5C869,1195.0 873,1195.0 878,1196.5M864,1200.7C869,1199.2 873,1199.2 878,1200.7M864,1204.9C869,1203.4 873,1203.4 878,1204.9M864,1209.1C869,1207.6 873,1207.6 878,1209.1M864,1213.3C869,1211.8 873,1211.8 878,1213.3M864,1217.5C869,1216.0 873,1216.0 878,1217.5M864,1221.7C869,1220.2 873,1220.2 878,1221.7M864,1225.9C869,1224.4 873,1224.4 878,1225.9M864,1230.1C869,1228.6 873,1228.6 878,1230.1M864,1234.3C869,1232.8 873,1232.8 878,1234.3M864,1238.5C869,1237.0 873,1237.0 878,1238.5M864,1242.7C869,1241.2 873,1241.2 878,1242.7" stroke-width="0.7" fill="none" stroke="#fff" opacity="0.3"/>
<path d="M881,1186.8999999999999 L898,1191.1 L898,1233.8999999999999 L881,1237.7" stroke-width="1.8" fill="none" />
<line x1="884.0" y1="1187.8" x2="884.0" y2="1236.9" stroke-width="1.2" />
<line x1="888.0" y1="1188.7" x2="888.0" y2="1236.1" stroke-width="1.4" />
<line x1="891.0" y1="1189.5" x2="891.0" y2="1235.3" stroke-width="1.2" />
<path d="M898,1191.1 L916.5,1191.1 C923,1191.3 927,1195.3 929,1198.8999999999999 M898,1233.8999999999999 L916.5,1233.8999999999999 C923,1233.7 927,1230.3 929,1226.8999999999999" stroke-width="3.0" fill="none" />
<line x1="900.4" y1="1191.1" x2="900.4" y2="1233.9" stroke-width="2.6" />
<path d="M901,1203.8999999999999 L912,1203.8999999999999 C917,1203.8999999999999 922.7,1209.3 922.7,1213.3 C922.7,1217.3 917,1221.8999999999999 912,1221.8999999999999 L901,1221.8999999999999" stroke-width="1.8" fill="none" />
<path d="M912,1203.8999999999999 C917,1203.3 920,1197.3 921,1192.3" stroke-width="1.8" fill="none" />
<path d="M912,1221.8999999999999 C917,1222.3 920,1228.3 921,1233.3" stroke-width="1.8" fill="none" />
<rect x="928.8" y="1198.9" width="22.0" height="28.0" rx="3" stroke-width="2.2" fill="none"/>
<line x1="933.5" y1="1199.3" x2="933.5" y2="1226.7" stroke-width="1.6" />
<line x1="938.8" y1="1199.3" x2="938.8" y2="1226.7" stroke-width="2.2" />
<path d="M944,1201.3 C949,1205.3 949,1221.3 944,1225.3 C941,1221.3 941,1205.3 944,1201.3 Z" stroke-width="1.6" fill="none" />
<path d="M950.8,1203.3 C956,1205.3 962,1206.3 970.2,1203.3 M950.8,1223.3 C956,1221.3 962,1220.3 970.2,1223.3" stroke-width="1.6" fill="none" />
<line x1="957.0" y1="1205.3" x2="957.0" y2="1221.3" stroke-width="1.2" />
<rect x="970.2" y="1195.3" width="31.3" height="34.7" rx="2" stroke-width="2.6" fill="none"/>
<ellipse cx="986.6" cy="1212.7" rx="11.4" ry="9.5" stroke-width="3.2" fill="none"/>
<path d="M1001.5,1199.6 C1009,1201.3 1013.3,1207.3 1013.3,1212.7 C1013.3,1218.3 1009,1224.3 1001.5,1226.6 Z" stroke-width="2" fill="#000" />
<path d="M975,1180.8999999999999 C975,1171.3 980,1165.3 986.6,1165.3 C993,1165.3 998,1171.3 998,1180.8999999999999" stroke-width="3.0" fill="none" />
<rect x="972.7" y="1180.9" width="28.8" height="7.7" rx="2" fill="#000" stroke="none"/>
<rect x="977" y="1188.6" width="19" height="6.7" fill="#999" stroke="#000" stroke-width="1.2"/>
<path d="M975,1244.0 C975,1253.6 980,1259.6 986.6,1259.6 C993,1259.6 998,1253.6 998,1244.0" stroke-width="3.0" fill="none" />
<rect x="972.7" y="1236.3" width="28.8" height="7.7" rx="2" fill="#000" stroke="none"/>
<rect x="977" y="1230.0" width="19" height="6.3" fill="#999" stroke="#000" stroke-width="1.2"/>
<rect x="751.2" y="896.0" width="40.4" height="32.0" rx="0" stroke-width="3.0" fill="none"/>
<rect x="747.5" y="928.0" width="49.0" height="27.4" rx="3" stroke-width="3.0" fill="none"/>
<line x1="759.8" y1="928.0" x2="759.8" y2="955.4" stroke-width="1.8" />
<line x1="784.0" y1="928.0" x2="784.0" y2="955.4" stroke-width="1.8" />
<rect x="751.2" y="955.4" width="40.4" height="31.2" rx="0" stroke-width="3.0" fill="none"/>
<rect x="751.2" y="1082.5" width="40.4" height="31.8" rx="0" stroke-width="3.0" fill="none"/>
<rect x="747.5" y="1114.3" width="50.0" height="25.0" rx="3" stroke-width="3.0" fill="none"/>
<line x1="759.8" y1="1114.3" x2="759.8" y2="1139.3" stroke-width="1.8" />
<line x1="785.0" y1="1114.3" x2="785.0" y2="1139.3" stroke-width="1.8" />
<rect x="751.2" y="1139.3" width="40.4" height="33.4" rx="0" stroke-width="3.0" fill="none"/>
<path d="M742,1006.8 L742,986.6 L801.3,986.6 L801.3,1006.8" stroke-width="3.0" fill="none" />
<path d="M742,1059.4 L742,1082.5 L802.6,1082.5 L802.6,1061" stroke-width="3.0" fill="none" />
<path d="M742,1006.8 C735,1008 725,1008 715,1013 C700,1021 700,1047 715,1055 C725,1060 735,1059 742,1059.4" stroke-width="2.2" fill="none" />
<path d="M742,1007 C747,1009.5 752,1011.5 757,1013.5 M801.3,1006.8 C797,1010 792,1012 786,1013.5 M742,1059.4 C747,1057 752,1055 757,1053.5 M802.6,1061 C797,1057 792,1055 786,1053.5" stroke-width="1.8" fill="none" />
<ellipse cx="772.0" cy="1033.5" rx="29.5" ry="22.6" stroke-width="2.2" fill="none"/>
<ellipse cx="772.0" cy="1033.5" rx="20.0" ry="14.2" stroke-width="4.0" fill="none"/>
<path d="M800,1020.6 L815,1020.6 C822,1020.6 826.6,1027 826.6,1033.5 C826.6,1040 822,1046.5 815,1046.5 L800,1046.5" stroke-width="3.0" fill="none" />
<path d="M801.3,1005.8 L830.3,1005.8 L830.3,1061.2 L802.6,1061.2" stroke-width="3.0" fill="none" />
<rect x="830.3" y="1005.8" width="11.0" height="55.4" rx="0" stroke-width="1.6" fill="none"/>
<line x1="835.0" y1="1005.8" x2="835.0" y2="1061.2" stroke-width="1.4" />
<rect x="851.5" y="963.4" width="3.5" height="141.6" rx="0" stroke-width="1.6" fill="#fff"/>
<polygon points="855,970.8 888.5,987.4 888.5,1080.8 855,1099.5" fill="#0d0d0d" stroke="#000" stroke-width="1.5"/>
<path d="M862,990C872,988 878,988 884,990M862,995C872,993 878,993 884,995M862,1000C872,998 878,998 884,1000M862,1005C872,1003 878,1003 884,1005M862,1010C872,1008 878,1008 884,1010M862,1015C872,1013 878,1013 884,1015M862,1020C872,1018 878,1018 884,1020M862,1025C872,1023 878,1023 884,1025M862,1030C872,1028 878,1028 884,1030M862,1035C872,1033 878,1033 884,1035M862,1040C872,1038 878,1038 884,1040M862,1045C872,1043 878,1043 884,1045M862,1050C872,1048 878,1048 884,1050M862,1055C872,1053 878,1053 884,1055M862,1060C872,1058 878,1058 884,1060M862,1065C872,1063 878,1063 884,1065M862,1070C872,1068 878,1068 884,1070M862,1075C872,1073 878,1073 884,1075M862,1080C872,1078 878,1078 884,1080" stroke-width="0.8" fill="none" stroke="#fff" opacity="0.35"/>
<rect x="888.5" y="987.0" width="22.8" height="96.0" rx="0" stroke-width="3.0" fill="none"/>
<path d="M911.3,987 C940,992 955,1010 983,1013 L1100,1013.2 C1140,1012 1170,1011 1188.6,1009 C1195,1004 1200,1002.8 1206,1002.8 C1230,1002.8 1246.5,1018 1246.5,1034.2 C1246.5,1050 1230,1065.5 1206,1065.5 C1200,1065.5 1195,1064 1188.6,1060.6 C1170,1058 1140,1056 1100,1055 L983,1055.5 C955,1058 940,1077 911.3,1083" stroke-width="3.0" fill="none" />
<path d="M881,1009.0 L884.7,1009.0 L900,1013.2 L916,1013.2 C922,1013.2 926,1016.2 929.5,1019.5 L929.5,1048.3 C926,1051.2 922,1054.7 916,1054.7 L900,1054.7 L884.7,1059.3 L881,1059.3 Z" stroke-width="3.0" fill="#fff" />
<rect x="881.0" y="1009.0" width="3.7" height="50.3" rx="0" stroke-width="1.2" fill="#aaa"/>
<line x1="889.0" y1="1011.2" x2="889.0" y2="1056.7" stroke-width="2.2" />
<line x1="900.8" y1="1013.2" x2="900.8" y2="1054.7" stroke-width="2.4" />
<path d="M901,1024.6000000000001 L913,1024.6000000000001 C918,1024.6000000000001 922.8,1030.2 922.8,1034.2 C922.8,1038.2 918,1043.6000000000001 913,1043.6000000000001 L901,1043.6000000000001" stroke-width="1.8" fill="none" />
<path d="M913,1024.6000000000001 C918,1024.2 921,1019.2 922,1014.7" stroke-width="1.8" fill="none" />
<path d="M913,1043.6000000000001 C918,1044.2 921,1049.2 922,1053.2" stroke-width="1.8" fill="none" />
<rect x="929.5" y="1019.5" width="22.0" height="28.8" rx="3" stroke-width="2.2" fill="none"/>
<line x1="935.4" y1="1020.2" x2="935.4" y2="1047.7" stroke-width="2.2" />
<path d="M947,1022.2 C952,1026.2 952,1042.2 947,1046.2 C943,1042.2 943,1026.2 947,1022.2 Z" stroke-width="1.6" fill="none" />
<path d="M952.3,1023.5 C958,1026.2 964,1026.2 970.2,1023.5 M952.3,1043.2 C958,1041.2 964,1041.2 970.2,1043.2" stroke-width="1.6" fill="none" />
<line x1="965.8" y1="1025.2" x2="965.8" y2="1042.2" stroke-width="1.2" />
<rect x="970.2" y="1017.0" width="30.8" height="34.5" rx="2" stroke-width="2.2" fill="none"/>
<ellipse cx="983.0" cy="1034.0" rx="12.3" ry="10.0" stroke-width="5.2" fill="none"/>
<path d="M1001,1019.8 C1009,1022 1013.2,1028 1013.2,1034.5 C1013.2,1041 1009,1047 1001,1049.3 Z" stroke-width="2" fill="#000" />
</g>
</svg>
</body></html>
